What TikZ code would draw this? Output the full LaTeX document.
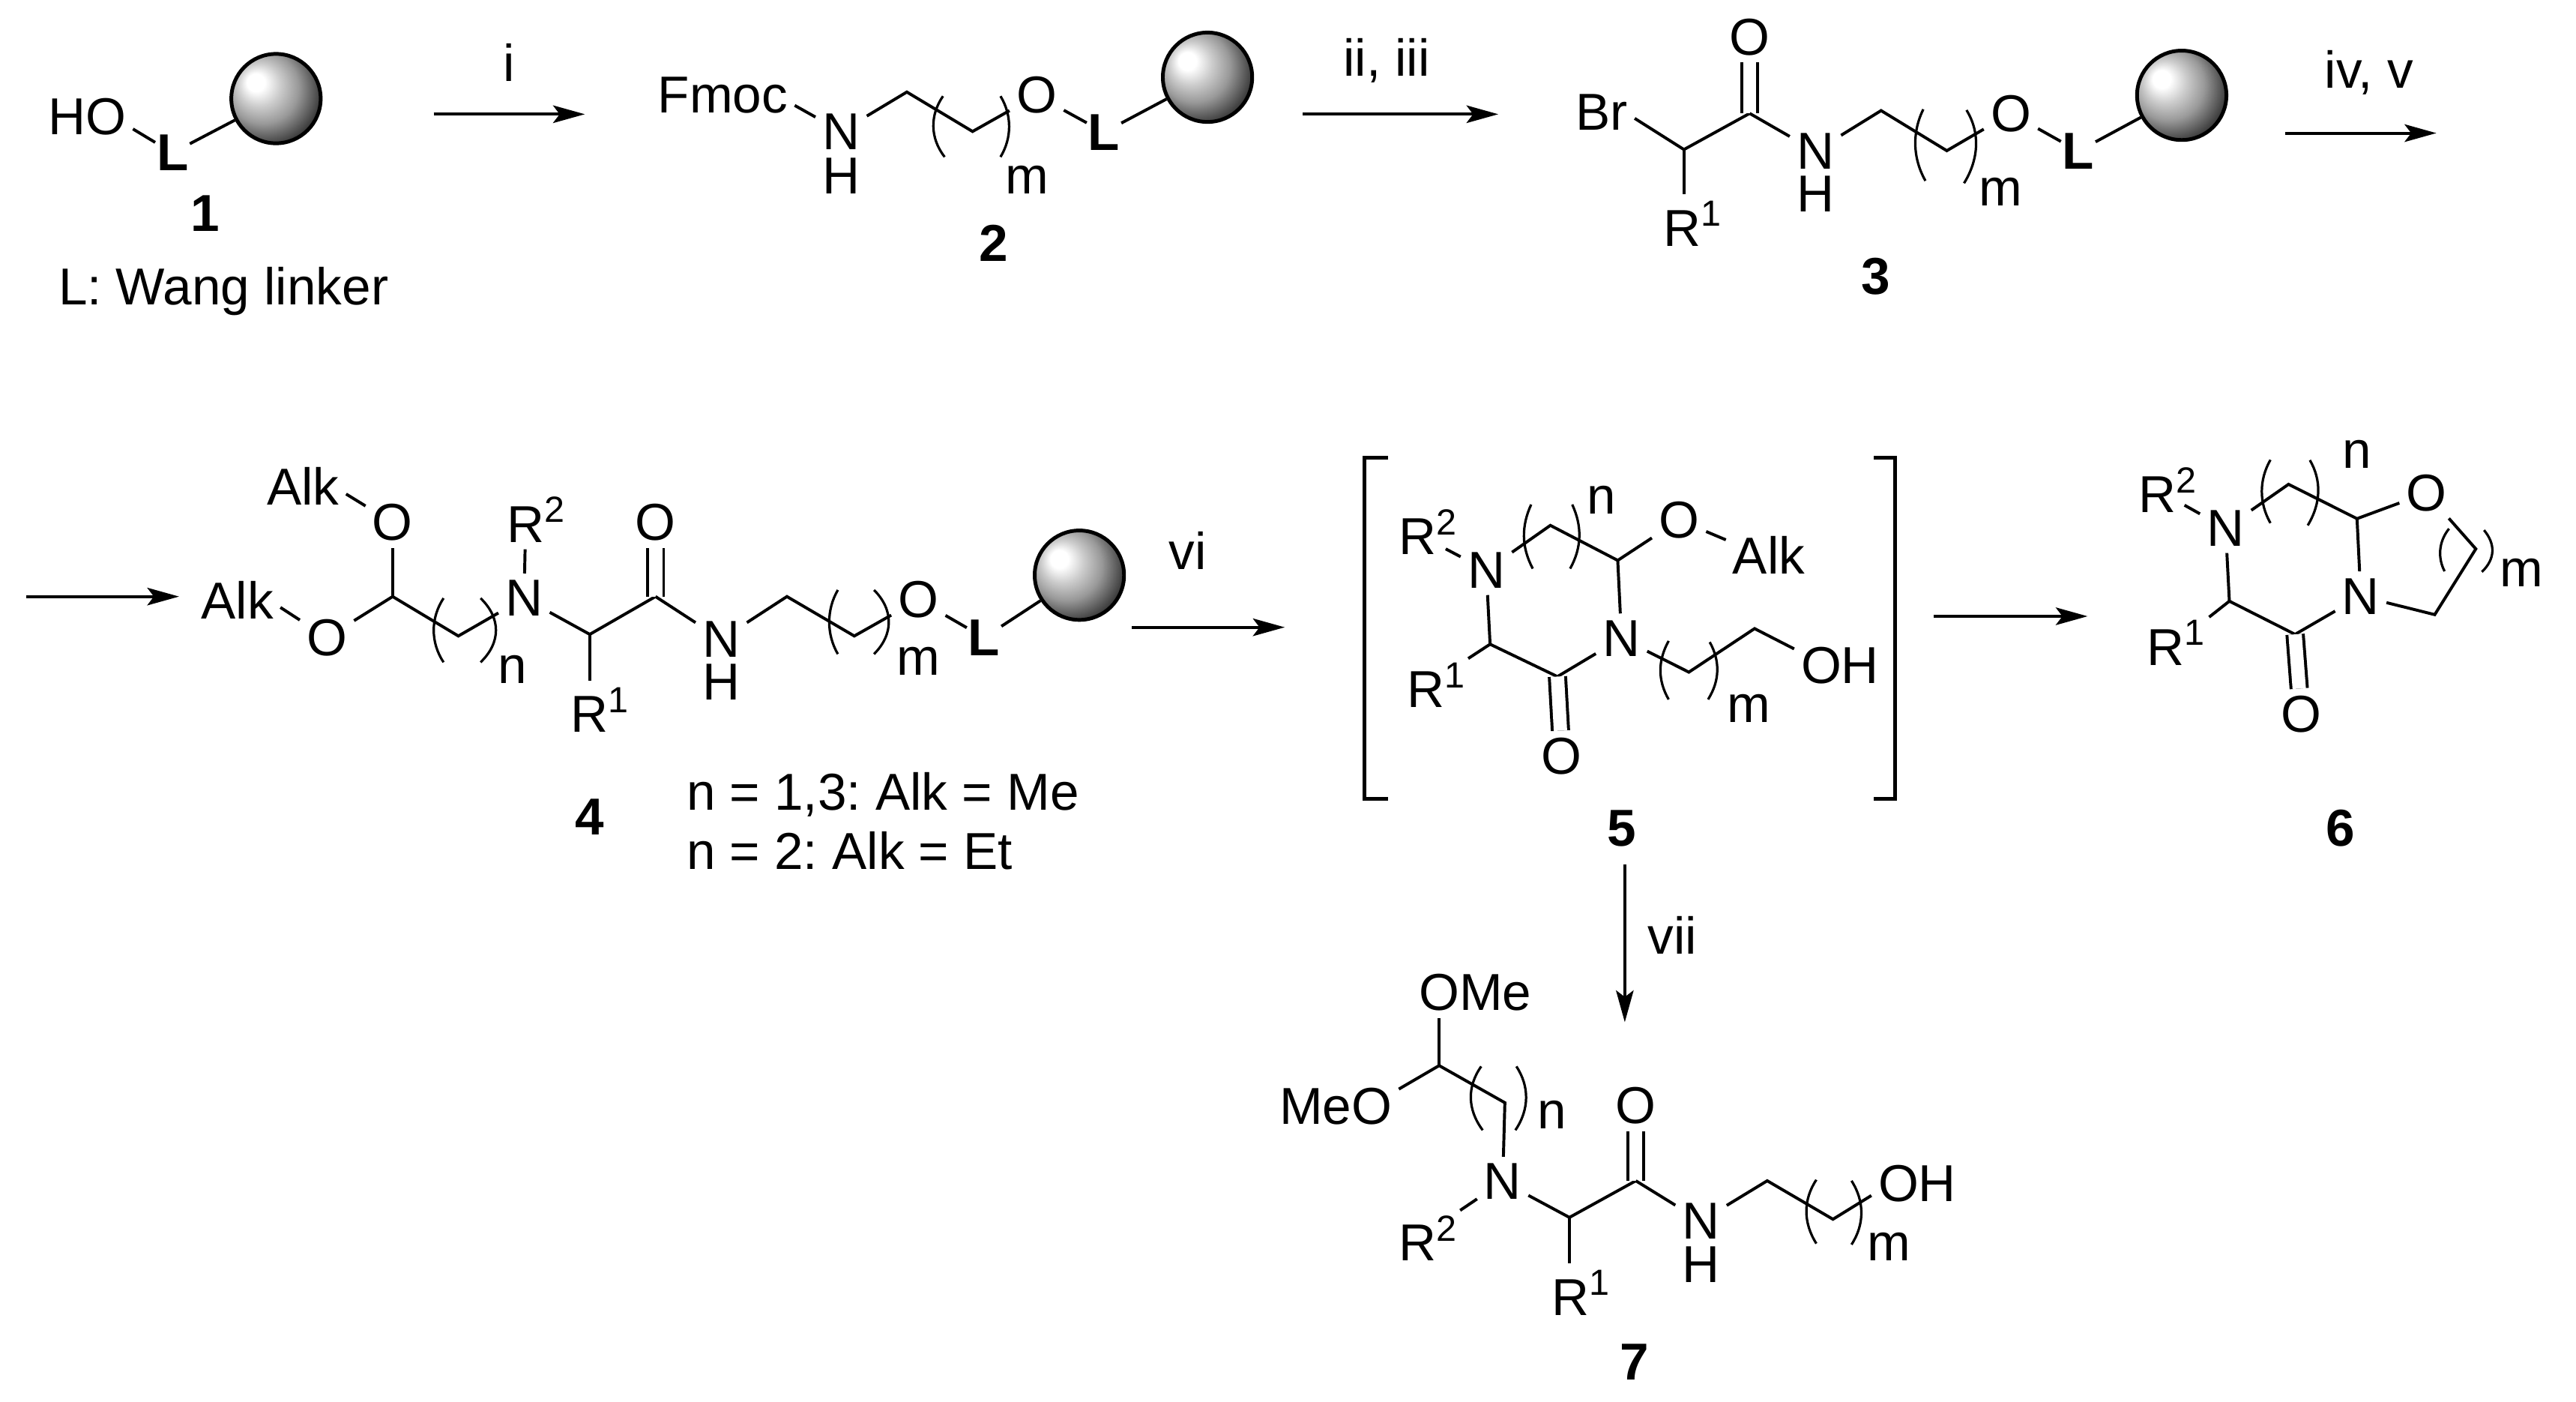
\documentclass[tikz,border=0pt]{standalone}
\usepackage{fontspec}
\setmainfont{Liberation Sans}
\usetikzlibrary{arrows.meta}

\pgfdeclareradialshading{resinball}{\pgfpoint{-12.5bp}{10bp}}{color(0bp)=(white); color(5bp)=(white); color(12bp)=(black!20); color(20bp)=(black!40); color(31bp)=(black!80); color(50bp)=(black)}

\tikzset{every picture/.style={line width=1.35pt}}
\tikzset{atom/.style={font=\fontsize{23.7}{28}\selectfont,inner sep=2.5pt}}
\tikzset{linker/.style={font=\fontsize{23.7}{28}\selectfont\bfseries,inner sep=0pt}}
\tikzset{cmpd/.style={font=\fontsize{23.7}{28}\selectfont\bfseries,inner sep=0.75pt}}
\tikzset{resin/.style={circle,draw=black,line width=1.7pt,shading=resinball,minimum size=40.8pt,inner sep=0pt}}
\tikzset{rxn/.style={-{Stealth[length=14.5pt,width=8pt,inset=3pt]}}}
\tikzset{paren/.style={line width=1.1pt}}

\begin{document}
\begin{tikzpicture}[x=0.75pt,y=0.75pt,yscale=-1,xscale=1]
\useasboundingbox (0,0) rectangle (1568,853);

% Compound 1
\draw (168,60) node (b1) [resin] {};
\draw (53,71) node (ho1) [atom] {HO};
\draw (105,93) node (l1) [linker] {L};
\draw (125,130) node (t1) [cmpd] {1};
\draw (136,185.5) node (wang) [atom,anchor=base] {L: Wang linker};
\draw (ho1.-15) -- (l1);
\draw (l1) -- (b1);

% Arrow i
\coordinate (a1s) at (264,69.5);
\coordinate (a1e) at (356,69.5);
\draw [rxn] (a1s) -- (a1e);
\draw (310,38) node (ri) [atom] {i};

% Compound 2
\coordinate (c21) at (552,56);
\coordinate (c22) at (592,80);
\draw (735,47) node (b2) [resin] {};
\draw (440,58) node (fmoc) [atom] {Fmoc};
\draw (512,80) node (n2) [atom] {N};
\draw (512,107) node (h2) [atom,inner sep=0pt] {H};
\draw (631,58) node (o2) [atom] {O};
\draw (672,80.5) node (l2) [linker] {L};
\draw (625,118) node (m2) [atom,anchor=base] {m};
\draw (605,148) node (t2) [cmpd] {2};
\draw (fmoc.-8) -- (n2);
\draw (n2) -- (c21) -- (c22) -- (o2);
\draw (o2) -- (l2);
\draw (l2) -- (b2);
\draw [paren] (574,58.5) .. controls (566,70) and (566,84) .. (575,95.5);
\draw [paren] (609,58.5) .. controls (616,70) and (616,84) .. (609,95.5);

% Arrow ii, iii
\coordinate (a2s) at (793,69.5);
\coordinate (a2e) at (912,69.5);
\draw [rxn] (a2s) -- (a2e);
\draw (844,37) node (rii) [atom] {ii, iii};

% Compound 3
\coordinate (c31) at (1025,91);
\coordinate (c32) at (1065,69);
\coordinate (c33) at (1145,67.3);
\coordinate (c34) at (1185,91.7);
\draw (1328,58) node (b3) [resin] {};
\draw (975,68.5) node (br3) [atom] {Br};
\draw (1065,22.5) node (o31) [atom] {O};
\draw (1105,92) node (n3) [atom] {N};
\draw (1105,118) node (h3) [atom,inner sep=0pt] {H};
\draw (1224,69) node (o32) [atom] {O};
\draw (1265,92) node (l3) [linker] {L};
\draw (1024,149.7) node (r3) [atom,anchor=base] {R\rlap{\textsuperscript{1}}};
\draw (1218,125.4) node (m3) [atom,anchor=base] {m};
\draw (1142,168) node (t3) [cmpd] {3};
\draw (br3.-10) -- (c31) -- (c32);
\draw [double,double distance=6.1pt] (c32) -- (o31);
\draw (c32) -- (n3);
\draw (n3) -- (c33) -- (c34) -- (o32);
\draw (o32) -- (l3);
\draw (l3) -- (b3);
\draw (c31) -- (r3.north -| c31);
\draw [paren] (1170.7,66.5) .. controls (1164,80) and (1164,96) .. (1172,110);
\draw [paren] (1197,67) .. controls (1205,80) and (1205,96) .. (1195.5,111.5);

% Arrow iv, v
\coordinate (a3s) at (1391,81);
\coordinate (a3e) at (1483,81);
\draw [rxn] (a3s) -- (a3e);
\draw (1442,44) node (riv) [atom] {iv, v};
\coordinate (a4s) at (16,363);
\coordinate (a4e) at (109,363);
\draw [rxn] (a4s) -- (a4e);

% Compound 4
\coordinate (c41) at (239,363);
\coordinate (c42) at (279,387);
\coordinate (c43) at (359,386);
\coordinate (c44) at (399,363);
\coordinate (c45) at (479,363);
\coordinate (c46) at (520,387);
\draw (657,350) node (b4) [resin] {};
\draw (144.5,365) node (alk41) [atom] {Alk};
\draw (184.5,296) node (alk42) [atom] {Alk};
\draw (199,388) node (o41) [atom] {O};
\draw (239,318) node (o42) [atom] {O};
\draw (319,364) node (n41) [atom] {N};
\draw (320,330) node (r42) [atom,anchor=base] {R\rlap{\textsuperscript{2}}};
\draw (399,318) node (o43) [atom] {O};
\draw (439,389) node (n42) [atom] {N};
\draw (439,415) node (h4) [atom,inner sep=0pt] {H};
\draw (559,365) node (o44) [atom] {O};
\draw (599,388) node (l4) [linker] {L};
\draw (359,445.5) node (r41) [atom,anchor=base] {R\rlap{\textsuperscript{1}}};
\draw (312,416) node (n4) [atom,anchor=base] {n};
\draw (559,411) node (m4) [atom,anchor=base] {m};
\draw (359,497) node (t4) [cmpd] {4};
\draw (417,493) node (alka) [atom,anchor=base west,inner sep=0pt] {n = 1,3:\ Alk = Me};
\draw (417,529) node (alkb) [atom,anchor=base west,inner sep=0pt] {n = 2:\ Alk = Et};
\draw (alk41.-10) -- (o41);
\draw (alk42.-10) -- (o42);
\draw (o41) -- (c41) -- (c42) -- (n41);
\draw (c41) -- (o42);
\draw (n41) -- (r42);
\draw (n41) -- (c43) -- (c44);
\draw (c43) -- (r41.north -| c43);
\draw [double,double distance=6.1pt] (c44) -- (o43);
\draw (c44) -- (n42);
\draw (n42) -- (c45) -- (c46) -- (o44);
\draw (o44) -- (l4);
\draw (l4) -- (b4);
\draw [paren] (270,364) .. controls (262,376) and (262,391) .. (270,403);
\draw [paren] (292.5,364) .. controls (305,376) and (305,391) .. (292.5,403);
\draw [paren] (510,359) .. controls (503,371) and (503,386) .. (510,398);
\draw [paren] (532,359) .. controls (544,371) and (544,386) .. (532,398);

% Arrow vi
\coordinate (a5s) at (689,381.7);
\coordinate (a5e) at (782,381.7);
\draw [rxn] (a5s) -- (a5e);
\draw (723,335) node (rvi) [atom] {vi};

% Compound 5
\coordinate (c51) at (943.7,319.7);
\coordinate (c52) at (984.7,341);
\coordinate (c53) at (948,411.7);
\coordinate (c54) at (907,392);
\coordinate (c55) at (1028,409);
\coordinate (c56) at (1068,382.5);
\coordinate (r52e) at (880,334);
\coordinate (r51e) at (893.7,400.7);
\draw (863,337.5) node (r52) [atom,anchor=base] {R\rlap{\textsuperscript{2}}};
\draw (904.7,347) node (n51) [atom] {N};
\draw (1022,316.5) node (o51) [atom] {O};
\draw (1076.7,338) node (alk5) [atom] {Alk};
\draw (987,388.4) node (n52) [atom] {N};
\draw (950.7,460) node (o52) [atom] {O};
\draw (868,430.4) node (r51) [atom,anchor=base] {R\rlap{\textsuperscript{1}}};
\draw (1120,405) node (oh5) [atom] {OH};
\draw (974.7,312.7) node (n5) [atom,anchor=base] {n};
\draw (1064.7,439.6) node (m5) [atom,anchor=base] {m};
\draw (987,504) node (t5) [cmpd] {5};
\draw (r52e) -- (n51);
\draw (n51) -- (c51) -- (c52) -- (o51);
\draw (o51) -- (alk5.160);
\draw (c52) -- (n52);
\draw (n52) -- (c53) -- (c54) -- (n51);
\draw [double,double distance=6.1pt] (c53) -- (o52);
\draw (c54) -- (r51e);
\draw (n52) -- (c55) -- (c56) -- (oh5.160);
\draw [paren] (932,307) .. controls (926,320) and (926,333) .. (933,346);
\draw [paren] (957,307) .. controls (963,320) and (963,333) .. (955.7,346);
\draw [paren] (1015.7,390) .. controls (1009,402) and (1009,414) .. (1015.7,425.6);
\draw [paren] (1040.7,390.7) .. controls (1047,402) and (1047,414) .. (1039.7,425.6);
\coordinate (br1a) at (844.7,278.6);
\coordinate (br1b) at (830.7,278.6);
\coordinate (br1c) at (830.7,486);
\coordinate (br1d) at (844.7,486);
\coordinate (br2a) at (1140.7,278.6);
\coordinate (br2b) at (1153.7,278.6);
\coordinate (br2c) at (1153.7,486);
\coordinate (br2d) at (1140.7,486);
\draw [line width=1.7pt] (br1a) -- (br1b) -- (br1c) -- (br1d);
\draw [line width=1.7pt] (br2a) -- (br2b) -- (br2c) -- (br2d);

% Arrow to 6
\coordinate (a6s) at (1177,375);
\coordinate (a6e) at (1270.7,375);
\draw [rxn] (a6s) -- (a6e);

% Compound 6
\coordinate (c61) at (1393,294.7);
\coordinate (c62) at (1434.7,315.6);
\coordinate (c63) at (1507,334);
\coordinate (c64) at (1482,374);
\coordinate (c65) at (1397,386);
\coordinate (c66) at (1357,365.8);
\coordinate (r62e) at (1329.7,307.4);
\coordinate (r61e) at (1344.7,375.5);
\draw (1313,312) node (r62) [atom,anchor=base] {R\rlap{\textsuperscript{2}}};
\draw (1354.7,321.4) node (n61) [atom] {N};
\draw (1477,300) node (o61) [atom] {O};
\draw (1437,362.8) node (n62) [atom] {N};
\draw (1400.7,434.4) node (o62) [atom] {O};
\draw (1318,404.7) node (r61) [atom,anchor=base] {R\rlap{\textsuperscript{1}}};
\draw (1434.7,284.7) node (n6) [atom,anchor=base] {n};
\draw (1534.7,357) node (m6) [atom,anchor=base] {m};
\draw (1424.7,504) node (t6) [cmpd] {6};
\draw (r62e) -- (n61);
\draw (n61) -- (c61) -- (c62) -- (o61);
\draw (o61) -- (c63) -- (c64) -- (n62);
\draw (c62) -- (n62);
\draw (n62) -- (c65) -- (c66) -- (n61);
\draw [double,double distance=6.1pt] (c65) -- (o62);
\draw (c66) -- (r61e);
\draw [paren] (1382,279.8) .. controls (1375,292) and (1375,306) .. (1382,318.3);
\draw [paren] (1406,280) .. controls (1413,292) and (1413,306) .. (1404.7,319.7);
\draw [paren] (1490.7,321.7) .. controls (1484,330) and (1484,340) .. (1488,347.6);
\draw [paren] (1512,322.6) .. controls (1519,331) and (1519,340) .. (1510.7,348);

% Arrow vii
\coordinate (a7s) at (989,526);
\coordinate (a7e) at (989,622);
\draw [rxn] (a7s) -- (a7e);
\draw (1018,569) node (rvii) [atom] {vii};

% Compound 7
\coordinate (c71) at (876,648.4);
\coordinate (c72) at (916,671);
\coordinate (c73) at (955.3,740.8);
\coordinate (c74) at (995.7,718.5);
\coordinate (c75) at (1075.7,718.5);
\coordinate (c76) at (1115.7,741.9);
\coordinate (r72e) at (888.8,736.5);
\draw (898,604) node (ome7) [atom] {OMe};
\draw (813,673) node (meo7) [atom] {MeO};
\draw (914.7,719) node (n71) [atom] {N};
\draw (995.7,672.9) node (o7) [atom] {O};
\draw (1035.4,743) node (n72) [atom] {N};
\draw (1035.4,769.5) node (h7) [atom,inner sep=0pt] {H};
\draw (1167,720) node (oh7) [atom] {OH};
\draw (863,767.3) node (r72) [atom,anchor=base] {R\rlap{\textsuperscript{2}}};
\draw (956,800.2) node (r71) [atom,anchor=base] {R\rlap{\textsuperscript{1}}};
\draw (944.7,686.7) node (n7) [atom,anchor=base] {n};
\draw (1150,767.3) node (m7) [atom,anchor=base] {m};
\draw (995,829) node (t7) [cmpd] {7};
\draw (ome7.south -| c71) -- (c71);
\draw (meo7.15) -- (c71) -- (c72) -- (n71);
\draw (n71) -- (r72e);
\draw (n71) -- (c73) -- (c74);
\draw (c73) -- (r71.north -| c73);
\draw [double,double distance=6.1pt] (c74) -- (o7);
\draw (c74) -- (n72);
\draw (n72) -- (c75) -- (c76) -- (oh7.-165);
\draw [paren] (901.6,648.9) .. controls (893,661) and (893,675) .. (902.5,687.7);
\draw [paren] (923,648.9) .. controls (931,661) and (931,675) .. (922.4,687.7);
\draw [paren] (1105.6,717.9) .. controls (1097.5,730) and (1097.5,744) .. (1105.6,756.7);
\draw [paren] (1127,718.5) .. controls (1135,731) and (1135,745) .. (1127,757.3);
\end{tikzpicture}
\end{document}
